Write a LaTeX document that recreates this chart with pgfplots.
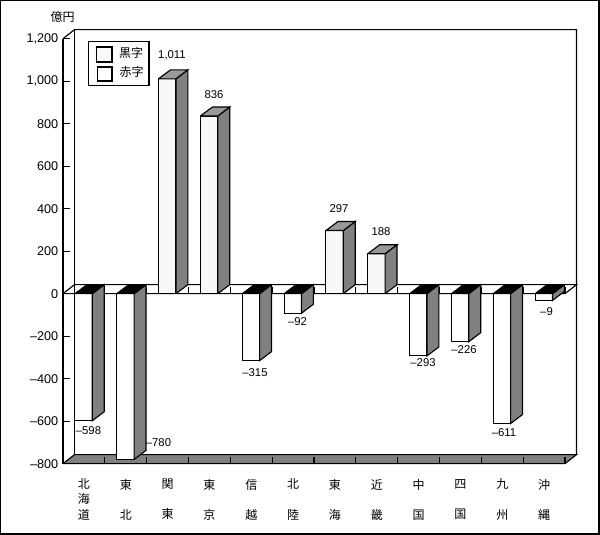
\documentclass[border=0pt]{standalone}
\usepackage{fontspec}
\setmainfont{Liberation Sans}
\newfontfamily\cjk{Noto Sans CJK JP}
\usepackage{pgfplots}
\pgfplotsset{compat=1.18}

\definecolor{barfront}{HTML}{F8F8F8}
\definecolor{barside}{HTML}{808080}
\definecolor{bartop}{HTML}{999999}

% one region: index, height of the drawn bar
\newcommand{\regionbar}[2]{%
  \pgfmathsetmacro\xa{#1+0.285}%
  \pgfmathsetmacro\xb{#1+0.70}%
  \pgfmathsetmacro\xc{#1+0.985}%
  \pgfmathsetmacro\xd{#1+0.285+0.287}%
  \pgfmathsetmacro\yb{#2+42.35}%
  \ifdim #2pt<0pt
    \def\facecol{white}\def\topcol{black}%
    \def\ytop{0}\def\ytopb{42.35}%
  \else
    \def\facecol{barfront}\def\topcol{bartop}%
    \def\ytop{#2}\edef\ytopb{\yb}%
  \fi
  \edef\temp{%
    \noexpand\addplot[fill=\facecol,draw=black,line width=.85pt] coordinates {(\xa,0) (\xb,0) (\xb,#2) (\xa,#2) (\xa,0)};
    \noexpand\addplot[fill=barside,draw=black,line width=.85pt] coordinates {(\xb,0) (\xc,42.35) (\xc,\yb) (\xb,#2) (\xb,0)};
    \noexpand\addplot[fill=\topcol,draw=black,line width=.85pt] coordinates {(\xa,\ytop) (\xd,\ytopb) (\xc,\ytopb) (\xb,\ytop) (\xa,\ytop)};
  }\temp
}

\begin{document}
\begin{tikzpicture}
\useasboundingbox (0,0) rectangle (450pt,401.25pt);
\begin{axis}[
    at={(47.25pt,53.5pt)},
    anchor=south west,
    scale only axis,
    width=376.5pt, height=318.75pt,
    xmin=0, xmax=12, ymin=-800, ymax=1200,
    clip=false,
    axis x line=bottom, axis y line=left,
    axis line style={-, line width=.85pt},
    tick align=inside,
    major tick length=5.25pt,
    x tick style={draw=none},
    y tick style={black, line width=.85pt},
    xtick={0.5,1.5,2.5,3.5,4.5,5.5,6.5,7.5,8.5,9.5,10.5,11.5},
    xticklabels={{北\\海\\道},{東\\\mbox{}\\北},{関\\\mbox{}\\東},{東\\\mbox{}\\京},{信\\\mbox{}\\越},{北\\\mbox{}\\陸},{東\\\mbox{}\\海},{近\\\mbox{}\\畿},{中\\\mbox{}\\国},{四\\\mbox{}\\国},{九\\\mbox{}\\州},{沖\\\mbox{}\\縄}},
    x tick label style={align=center, font=\cjk\fontsize{9}{11.3}\selectfont, yshift=-8pt},
    ytick={-800,-600,-400,-200,0,200,400,600,800,1000,1200},
    yticklabels={--800,--600,--400,--200,0,200,400,600,800,{1,000},{1,200}},
    y tick label style={font=\fontsize{9.5}{11}\selectfont},
    every axis plot/.append style={forget plot},
]
% walls
\addplot[draw=black, line width=.85pt] coordinates {(0,1200) (0.275,1242.35) (12.275,1242.35) (12.275,-757.65)};
\addplot[draw=black, line width=.85pt] coordinates {(0.275,1242.35) (0.275,-757.65)};
% floor
\addplot[fill=barside, draw=black, line width=.85pt] coordinates {(0,-800) (0.275,-757.65) (12.275,-757.65) (12,-800) (0,-800)};
\addplot[draw=black, line width=.85pt] coordinates {(0,-800) (12,-800)};
% zero plane
\addplot[draw=black, line width=.85pt] coordinates {(0,0) (0.275,42.35) (12.275,42.35) (12,0) (0,0)};
% category ticks on the floor and on the zero plane
\pgfplotsinvokeforeach{1,...,12}{
  \addplot[draw=black, line width=.85pt] coordinates {(#1,-800) (#1,-767)};
  \addplot[draw=black, line width=.85pt] coordinates {(#1,0) (#1,33)};
}
\regionbar{0}{-598}
\regionbar{1}{-780}
\regionbar{2}{1011}
\regionbar{3}{836}
\regionbar{4}{-315}
\regionbar{5}{-92}
\regionbar{6}{297}
\regionbar{7}{188}
\regionbar{8}{-293}
\regionbar{9}{-226}
\regionbar{10}{-611}
% labelled -9, the reference draws it about this deep
\regionbar{11}{-32}
\end{axis}
\begin{scope}[x=.75pt, y=-.75pt, shift={(0,401.25pt)}]
  \draw[line width=.85pt] (0.5,0.5) rectangle (599,534);
  \node[font=\cjk\fontsize{9}{11}\selectfont] at (62.5,17) {億円};
  % legend
  \draw[line width=.85pt, fill=white] (88.5,41.5) rectangle (149,85.5);
  \draw[line width=.85pt, fill=barfront] (96.5,47) rectangle (112,62);
  \draw[line width=.85pt, fill=white] (97.5,67) rectangle (112,81);
  \node[font=\cjk\fontsize{9}{11}\selectfont] at (131,53) {黒字};
  \node[font=\cjk\fontsize{9}{11}\selectfont] at (131.5,72) {赤字};
  % value labels
  \tikzset{val/.style={font=\fontsize{8.5}{10}\selectfont, inner sep=0pt}}
  \node[val] at (172,55) {1,011};
  \node[val] at (214,95) {836};
  \node[val] at (339,209) {297};
  \node[val] at (381,232) {188};
  \node[val] at (88.5,431) {--598};
  \node[val] at (158.5,443) {--780};
  \node[val] at (255,373) {--315};
  \node[val] at (297.5,322) {--92};
  \node[val] at (423,363) {--293};
  \node[val] at (464,350) {--226};
  \node[val] at (504,433) {--611};
  \node[val] at (546.5,312) {--9};
\end{scope}
\end{tikzpicture}
\end{document}
